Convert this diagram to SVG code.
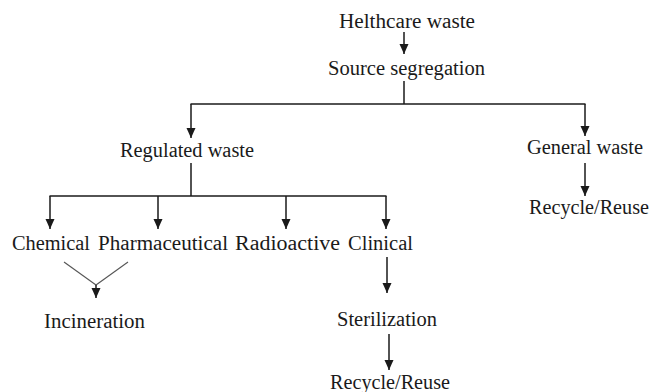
<svg xmlns="http://www.w3.org/2000/svg" width="651" height="392" viewBox="0 0 651 392">
<style>
  text { font-family: "Liberation Serif", "DejaVu Serif", "Times New Roman", serif; font-size: 20px; fill: #1a1a1a; }
  .ln { stroke: #1a1a1a; stroke-width: 1.5; fill: none; }
  .arr { stroke: #1a1a1a; stroke-width: 1.5; fill: none; marker-end: url(#ah); }
  .thin { stroke: #555; stroke-width: 1.1; fill: none; }
</style>
<defs>
  <marker id="ah" markerUnits="userSpaceOnUse" viewBox="0 -5 11 10" refX="10" refY="0" markerWidth="11" markerHeight="10" orient="auto">
    <path d="M0,-4.5 L10,0 L0,4.5 z" fill="#1a1a1a"/>
  </marker>
</defs>
<rect width="651" height="392" fill="#ffffff"/>
<g id="connectors">
  <line class="arr" x1="404" y1="32" x2="404" y2="54"/>
  <line class="ln" x1="404" y1="81" x2="404" y2="104"/>
  <line class="ln" x1="190.5" y1="104" x2="585.5" y2="104"/>
  <line class="arr" x1="191" y1="104" x2="191" y2="138"/>
  <line class="arr" x1="585" y1="104" x2="585" y2="136"/>
  <line class="ln" x1="191" y1="163" x2="191" y2="196"/>
  <line class="ln" x1="49.5" y1="196" x2="386.5" y2="196"/>
  <line class="arr" x1="50" y1="196" x2="50" y2="229"/>
  <line class="arr" x1="158" y1="196" x2="158" y2="229"/>
  <line class="arr" x1="286" y1="196" x2="286" y2="229"/>
  <line class="arr" x1="386" y1="196" x2="386" y2="229"/>
  <line class="arr" x1="585" y1="163" x2="585" y2="196"/>
  <line class="thin" x1="64" y1="262" x2="96" y2="285"/>
  <line class="thin" x1="128" y1="262" x2="96" y2="285"/>
  <line class="arr" x1="96" y1="285" x2="96" y2="298"/>
  <line class="arr" x1="387" y1="257" x2="387" y2="293"/>
  <line class="arr" x1="389" y1="334" x2="389" y2="370"/>
</g>
<g id="n-healthcare"><text x="339" y="28" textLength="136" lengthAdjust="spacingAndGlyphs">Helthcare waste</text></g>
<g id="n-source"><text x="328" y="75" textLength="157" lengthAdjust="spacingAndGlyphs">Source segregation</text></g>
<g id="n-regulated"><text x="120" y="157" textLength="134" lengthAdjust="spacingAndGlyphs">Regulated waste</text></g>
<g id="n-general"><text x="527" y="154" textLength="116" lengthAdjust="spacingAndGlyphs">General waste</text></g>
<g id="n-recycle1"><text x="529" y="214" textLength="120" lengthAdjust="spacingAndGlyphs">Recycle/Reuse</text></g>
<g id="n-chemical"><text x="12" y="250" textLength="78" lengthAdjust="spacingAndGlyphs">Chemical</text></g>
<g id="n-pharma"><text x="98" y="250" textLength="130" lengthAdjust="spacingAndGlyphs">Pharmaceutical</text></g>
<g id="n-radio"><text x="235" y="250" textLength="105" lengthAdjust="spacingAndGlyphs">Radioactive</text></g>
<g id="n-clinical"><text x="348" y="250" textLength="65" lengthAdjust="spacingAndGlyphs">Clinical</text></g>
<g id="n-incineration"><text x="44" y="328" textLength="101" lengthAdjust="spacingAndGlyphs">Incineration</text></g>
<g id="n-sterilization"><text x="337" y="326" textLength="100" lengthAdjust="spacingAndGlyphs">Sterilization</text></g>
<g id="n-recycle2"><text x="330" y="389" textLength="120" lengthAdjust="spacingAndGlyphs">Recycle/Reuse</text></g>
</svg>
